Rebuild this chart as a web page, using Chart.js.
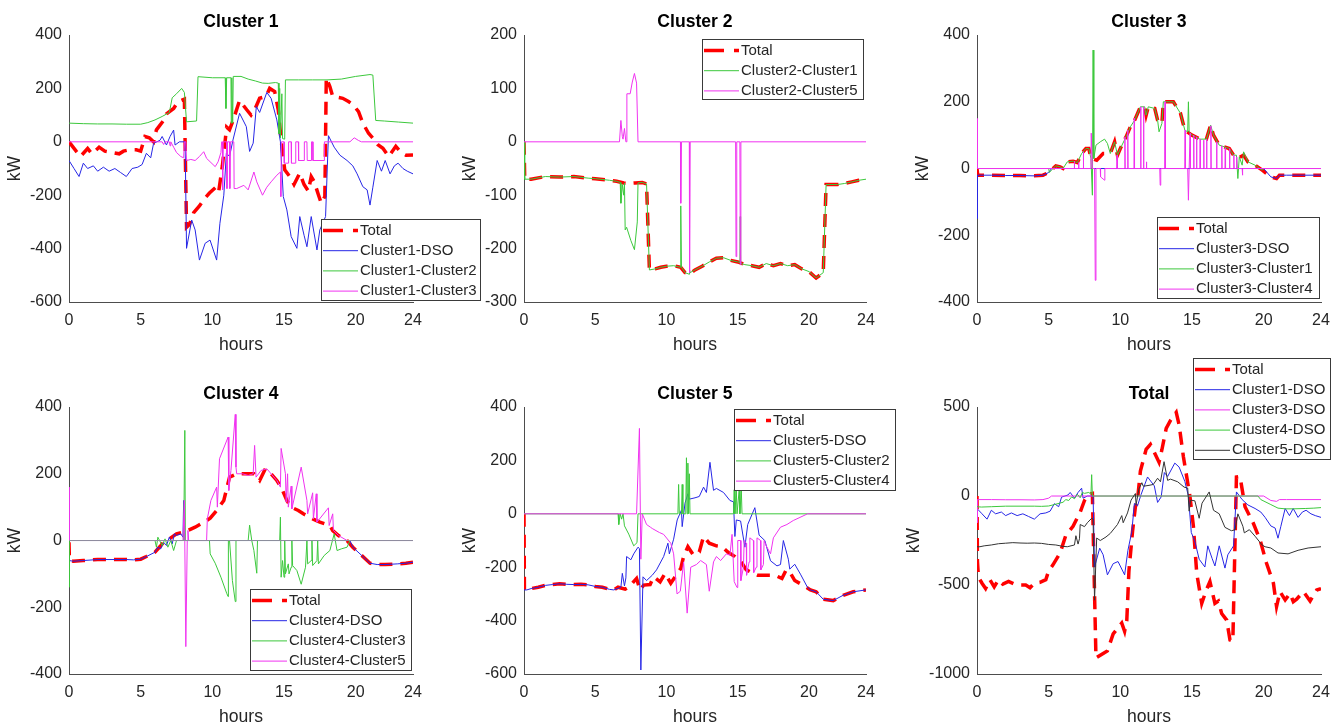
<!DOCTYPE html>
<html><head><meta charset="utf-8">
<script src="https://cdn.jsdelivr.net/npm/chart.js"></script>
<style>
html,body{margin:0;padding:0;background:#fff;width:1341px;height:723px;overflow:hidden;position:relative;}
canvas.pane{position:absolute;}
</style></head><body>
<canvas id="c1" class="pane"></canvas>
<canvas id="c2" class="pane"></canvas>
<canvas id="c3" class="pane"></canvas>
<canvas id="c4" class="pane"></canvas>
<canvas id="c5" class="pane"></canvas>
<canvas id="c6" class="pane"></canvas>
<script>
// ---------- tick labels ----------
const xTickValues = [0, 5, 10, 15, 20, 24];
const c1YTicks = [-600, -400, -200, 0, 200, 400];
const c2YTicks = [-300, -200, -100, 0, 100, 200];
const c3YTicks = [-400, -200, 0, 200, 400];
const c4YTicks = [-400, -200, 0, 200, 400];
const c5YTicks = [-600, -400, -200, 0, 200, 400];
const totYTicks = [-1000, -500, 0, 500];

// ---------- titles / legend labels ----------
const plotTitles = ['Cluster 1', 'Cluster 2', 'Cluster 3', 'Cluster 4', 'Cluster 5', 'Total'];
const c1Labels = ['Total', 'Cluster1-DSO', 'Cluster1-Cluster2', 'Cluster1-Cluster3'];
const c2Labels = ['Total', 'Cluster2-Cluster1', 'Cluster2-Cluster5'];
const c3Labels = ['Total', 'Cluster3-DSO', 'Cluster3-Cluster1', 'Cluster3-Cluster4'];
const c4Labels = ['Total', 'Cluster4-DSO', 'Cluster4-Cluster3', 'Cluster4-Cluster5'];
const c5Labels = ['Total', 'Cluster5-DSO', 'Cluster5-Cluster2', 'Cluster5-Cluster4'];
const totLabels = ['Total', 'Cluster1-DSO', 'Cluster3-DSO', 'Cluster4-DSO', 'Cluster5-DSO'];

// ---------- series values: [hour, kW] ----------
const c1Total = [[0,0],[0.5,-35],[0.8,-55],[1.3,-25],[1.6,-45],[2.1,-20],[2.5,-35],[3.0,-40],[3.5,-45],[3.8,-35],[4.2,-30],[4.7,-30],[5.0,-35],[5.3,20],[5.6,15],[5.9,0],[6.1,45],[6.6,80],[6.8,105],[7.3,125],[7.6,150],[8.05,160],[8.2,-320],[8.4,-310],[8.7,-265],[9.1,-240],[9.5,-210],[9.8,-192],[10.3,-167],[10.45,-185],[10.7,-90],[11.0,55],[11.2,45],[11.45,80],[11.9,155],[12.4,120],[12.7,100],[12.95,120],[13.3,163],[13.75,170],[14.0,200],[14.35,188],[14.6,120],[14.8,7],[15.05,-105],[15.4,-130],[15.7,-160],[16.1,-117],[16.4,-160],[16.7,-185],[16.9,-130],[17.1,-148],[17.4,-198],[17.6,-230],[17.85,-205],[17.95,240],[18.2,207],[18.4,170],[19.1,163],[19.5,151],[19.8,140],[20.2,113],[20.5,70],[20.9,32],[21.2,14],[21.55,-11],[21.9,-24],[22.3,-55],[22.5,-40],[22.8,-17],[23.2,-42],[23.5,-50],[24,-49]];
const c1DSO = [[0,-70],[0.35,-100],[0.7,-130],[1.0,-80],[1.3,-100],[1.7,-90],[2.0,-110],[2.4,-95],[2.8,-110],[3.2,-100],[3.6,-115],[4.0,-130],[4.4,-100],[4.8,-95],[5.1,-85],[5.4,-43],[5.7,-60],[5.9,-6],[6.35,6],[6.5,20],[6.8,-12],[7.05,20],[7.3,44],[7.4,-12],[7.7,0],[8.1,0],[8.2,-399],[8.56,-293],[8.8,-330],[9.1,-443],[9.5,-380],[9.84,-368],[10.3,-443],[10.53,-305],[10.8,-200],[10.98,-42],[11.2,-55],[11.44,7],[11.9,107],[12.37,57],[12.6,-36],[12.85,-5],[13.07,132],[13.3,110],[13.8,185],[14.1,163],[14.5,82],[14.75,0],[14.95,-205],[15.2,-255],[15.5,-355],[15.9,-399],[16.1,-280],[16.4,-350],[16.6,-393],[16.9,-280],[17.3,-405],[17.5,-330],[17.9,-280],[18.1,23],[18.5,-20],[18.9,-50],[19.4,-70],[19.8,-90],[20.1,-120],[20.5,-168],[20.8,-180],[21.0,-237],[21.2,-170],[21.5,-70],[21.8,-110],[22.06,-70],[22.4,-120],[22.7,-90],[22.96,-80],[23.3,-100],[23.6,-110],[24,-120]];
const c1C2 = [[0,70],[1,68],[2,67],[3,67],[4,66],[5,66],[5.5,72],[6.0,82],[6.5,95],[7.0,110],[7.2,165],[7.5,180],[7.86,200],[8.05,185],[8.2,75],[8.9,78],[9.0,244],[10.0,240],[10.9,240],[10.95,125],[11.0,240],[11.3,240],[11.32,70],[11.36,240],[11.42,70],[11.46,245],[12.0,245],[12.5,235],[13.0,228],[13.5,220],[13.9,219],[14.4,222],[14.6,220],[14.65,30],[14.7,200],[14.75,15],[14.85,180],[14.9,12],[15.05,10],[15.1,232],[16,232],[17,232],[18,232],[19,235],[20,245],[21,252],[21.2,250],[21.4,80],[22,78],[23,74],[24,70]];
const c1C3 = [[0,0],[6.5,0],[6.6,-10],[6.7,0],[7.0,0],[7.05,-15],[7.1,0],[7.3,-20],[7.5,-40],[7.8,-55],[8.0,-60],[8.05,0],[8.15,0],[8.2,-70],[8.5,-66],[8.8,-70],[9.1,-55],[9.4,-37],[9.6,-62],[10.2,-93],[10.4,-75],[10.6,-40],[10.65,0],[10.7,0],[10.72,-180],[10.76,0],[11.0,0],[11.02,-175],[11.06,0],[11.2,0],[11.22,-175],[11.26,0],[11.5,0],[11.52,-175],[11.7,-175],[12.2,-163],[12.5,-180],[12.9,-113],[13.1,-150],[13.5,-200],[13.8,-170],[14.1,-150],[14.5,-125],[14.75,-113],[14.78,-205],[14.82,0],[15.0,0],[15.02,-80],[15.3,-80],[15.32,0],[15.5,0],[15.52,-80],[15.8,-80],[15.82,0],[16.0,0],[16.02,-70],[16.4,-70],[16.42,0],[16.6,0],[16.62,-70],[16.9,-70],[16.92,0],[17.0,0],[17.02,-70],[17.8,-70],[17.82,0],[19.6,0],[19.9,15],[20.2,5],[20.4,0],[24,0]];

const c2Total = [[0,0],[0.05,-70],[0.5,-70],[1.5,-65],[2.5,-66],[3.5,-65],[4.5,-68],[5.0,-69],[6.0,-72],[6.5,-74],[7.0,-77],[7.3,-78],[7.8,-77],[8.3,-76],[8.6,-79],[8.8,-240],[9.2,-238],[9.6,-235],[10.0,-233],[10.5,-232],[11.0,-235],[11.3,-245],[11.6,-248],[12.0,-240],[12.5,-233],[13.0,-225],[13.5,-218],[14.0,-217],[14.5,-222],[15.0,-225],[15.5,-230],[16.0,-232],[16.5,-235],[17.0,-228],[17.5,-232],[18.0,-228],[18.5,-232],[19.0,-230],[19.5,-238],[20.0,-243],[20.5,-255],[21.0,-245],[21.2,-80],[22.0,-80],[22.5,-78],[23.0,-75],[23.5,-72],[24,-70]];
const c2C1 = [[0,0],[0.05,-70],[0.5,-70],[1.5,-65],[2.5,-66],[3.5,-65],[4.5,-68],[5.0,-69],[6.0,-72],[6.5,-74],[6.75,-76],[6.8,-115],[6.9,-80],[7.0,-100],[7.05,-77],[7.1,-165],[7.2,-160],[7.5,-185],[7.75,-202],[7.95,-150],[8.0,-77],[8.3,-76],[8.6,-79],[8.8,-240],[9.2,-238],[9.6,-235],[10.0,-233],[10.5,-232],[10.98,-235],[11.0,-120],[11.05,-235],[11.3,-245],[11.6,-248],[11.62,-240],[11.65,-245],[12.0,-240],[12.5,-233],[13.0,-225],[13.5,-218],[14.0,-217],[14.5,-222],[15.0,-225],[15.15,-226],[15.17,-140],[15.2,-228],[15.5,-230],[16.0,-232],[16.5,-235],[17.0,-228],[17.5,-232],[18.0,-228],[18.5,-232],[19.0,-230],[19.5,-238],[20.0,-243],[20.5,-255],[21.0,-245],[21.2,-80],[22.0,-80],[22.5,-78],[23.0,-75],[23.5,-72],[24,-70]];
const c2C5 = [[0,0],[6.7,0],[6.8,40],[6.9,10],[6.95,5],[7.05,25],[7.15,0],[7.2,0],[7.22,90],[7.45,90],[7.6,112],[7.75,128],[7.9,110],[8.0,0],[10.98,0],[11.0,-115],[11.05,0],[11.6,0],[11.62,-245],[11.66,0],[14.85,0],[14.88,-215],[14.93,0],[15.15,0],[15.18,-230],[15.22,0],[24,0]];

const c3Total = [[0,0],[0.05,-20],[1,-20],[2,-21],[3,-21],[4,-22],[4.6,-20],[5.0,-12],[5.3,0],[5.5,8],[5.8,5],[6.0,0],[6.3,20],[6.7,22],[7.0,18],[7.3,45],[7.6,60],[7.8,60],[7.95,30],[8.35,25],[8.8,45],[9.3,45],[9.6,80],[9.8,40],[10.0,60],[10.4,95],[10.7,125],[11.0,145],[11.4,185],[11.7,185],[11.8,160],[11.95,185],[12.4,180],[12.6,145],[12.9,135],[13.0,200],[13.5,200],[13.7,200],[14.2,165],[14.5,115],[15.0,100],[15.55,88],[16.0,88],[16.3,130],[16.5,100],[16.9,70],[17.6,60],[17.9,40],[18.2,30],[18.6,40],[18.9,20],[19.4,10],[19.9,-5],[20.5,-25],[20.9,-30],[21.1,-20],[21.6,-20],[24,-20]];
const c3DSO = [[0,-20],[0.01,-150],[0.05,-20],[1,-20],[2,-21],[3,-21],[4,-22],[4.6,-20],[5.0,-12],[5.2,0],[20.0,0],[20.5,-25],[20.9,-30],[21.1,-20],[21.6,-20],[24,-20]];
const c3C1 = [[0,0],[5.0,0],[5.05,-12],[5.3,0],[5.5,8],[5.8,5],[6.0,0],[6.3,20],[6.7,22],[7.0,18],[7.3,45],[7.6,60],[7.8,60],[7.95,30],[8.05,-80],[8.1,355],[8.15,30],[8.3,70],[8.6,80],[8.9,88],[9.1,75],[9.3,45],[9.6,80],[9.8,40],[10.0,60],[10.4,95],[10.7,125],[11.0,145],[11.4,185],[11.7,185],[11.8,160],[11.95,185],[12.4,180],[12.6,145],[12.7,110],[12.9,135],[13.0,200],[13.5,200],[13.7,200],[14.2,165],[14.5,115],[14.7,110],[14.75,200],[14.8,110],[15.0,100],[15.55,88],[16.0,88],[16.3,130],[16.5,100],[16.9,70],[17.6,60],[17.9,40],[18.1,40],[18.2,-30],[18.3,35],[18.5,10],[18.6,50],[18.9,20],[19.4,10],[19.9,-5],[20.0,0],[24,0]];
const c3C4 = [[0,0],[0.01,150],[0.05,0],[6.77,0],[6.79,22],[6.81,0],[7.07,0],[7.09,18],[7.11,0],[7.4,0],[7.42,50],[7.44,0],[7.95,0],[7.97,106],[8.05,0],[8.2,0],[8.25,-335],[8.3,0],[8.6,0],[8.62,-25],[8.9,-35],[8.92,0],[9.75,0],[9.77,40],[9.79,0],[10.3,0],[10.32,95],[10.34,0],[10.5,0],[10.52,115],[10.54,0],[10.95,0],[10.97,150],[10.99,0],[11.4,0],[11.42,185],[11.44,0],[11.6,0],[11.62,185],[11.64,0],[11.8,0],[11.82,20],[11.84,0],[12.75,0],[12.78,-50],[12.82,0],[13.1,0],[13.12,200],[13.14,0],[14.5,0],[14.52,115],[14.54,0],[14.7,0],[14.75,-95],[14.8,0],[14.85,0],[14.87,105],[14.89,0],[15.1,0],[15.12,100],[15.14,0],[15.3,0],[15.32,95],[15.34,0],[15.55,0],[15.57,88],[15.59,0],[15.8,0],[15.82,85],[15.84,0],[16.0,0],[16.02,88],[16.04,0],[16.3,0],[16.32,128],[16.34,0],[16.7,0],[16.72,80],[16.74,0],[17.06,0],[17.08,68],[17.1,0],[17.3,0],[17.32,62],[17.34,0],[17.6,0],[17.62,60],[17.64,0],[17.9,0],[17.92,40],[17.94,0],[18.1,0],[18.12,35],[18.14,0],[18.5,0],[18.52,-20],[18.54,0],[24,0]];

const c4Total = [[0,-5],[0.03,-60],[0.3,-62],[1,-60],[2,-57],[3,-57],[4,-57],[4.5,-58],[5.0,-56],[5.4,-48],[6.0,-35],[6.35,-18],[6.6,-5],[7.0,5],[7.5,20],[8.0,25],[8.3,30],[8.8,40],[9.5,57],[9.85,67],[10.3,90],[10.8,120],[11.2,190],[11.7,200],[12.1,200],[12.5,200],[12.9,200],[13.3,180],[13.7,215],[14.0,205],[14.5,180],[14.8,160],[15.2,120],[15.5,100],[16.0,90],[16.35,80],[17.0,65],[17.5,55],[18.2,45],[18.4,30],[18.8,15],[19.4,0],[19.8,-20],[20.5,-48],[21.0,-68],[21.5,-72],[22.05,-72],[22.9,-70],[23.5,-68],[24,-65]];
const c4DSO = [[0,-60],[0.3,-62],[1,-60],[2,-57],[3,-57],[4,-57],[4.5,-58],[5.0,-56],[5.4,-48],[6.0,-35],[6.2,-20],[6.4,-25],[6.6,-5],[6.8,-15],[7.0,10],[7.2,-10],[7.35,20],[7.5,15],[7.8,20],[7.95,10],[8.0,120],[8.05,0],[19.6,0],[19.8,-20],[20.5,-48],[21.0,-68],[21.5,-72],[22.05,-72],[22.9,-70],[23.5,-68],[24,-65]];
const c4C3 = [[0,0],[0.01,-140],[0.04,0],[6.0,0],[6.1,-20],[6.2,10],[6.5,-15],[6.7,5],[6.9,-20],[7.1,0],[7.3,-30],[7.5,0],[8.0,0],[8.08,330],[8.12,0],[9.8,0],[9.85,-40],[10.2,-68],[10.6,-110],[11.0,-158],[11.1,-168],[11.12,0],[11.2,0],[11.4,-120],[11.6,-183],[11.65,0],[12.5,0],[12.6,46],[12.75,0],[12.9,-30],[13.1,-98],[13.15,0],[14.7,0],[14.75,70],[14.8,-110],[14.9,-60],[15.0,-110],[15.05,0],[15.1,-100],[15.3,-70],[15.35,-100],[15.5,-80],[15.55,0],[15.6,-75],[15.9,-90],[16.2,-131],[16.5,-80],[16.6,0],[16.65,-70],[16.9,-60],[16.95,0],[17.0,-75],[17.3,-60],[17.35,0],[17.4,-70],[17.8,-45],[18.2,-30],[18.5,20],[18.7,-30],[19.0,-25],[19.4,-20],[19.6,0],[24,0]];
const c4C5 = [[0,0],[0.01,160],[0.04,0],[7.95,0],[8.05,120],[8.15,-318],[8.25,0],[8.3,30],[8.35,0],[9.6,0],[9.65,65],[9.9,120],[10.3,160],[10.35,100],[10.5,245],[11.1,310],[11.15,150],[11.3,210],[11.6,378],[11.65,220],[11.7,200],[12.1,200],[12.5,195],[12.85,200],[12.95,285],[13.05,190],[13.4,210],[13.8,215],[14.0,205],[14.5,180],[14.75,160],[14.8,276],[15.1,200],[15.15,115],[15.25,200],[15.3,100],[15.5,163],[15.55,95],[16.2,220],[16.6,120],[16.65,80],[17.0,143],[17.05,65],[17.25,140],[17.3,55],[18.1,98],[18.15,45],[18.4,80],[18.45,30],[18.8,15],[19.4,0],[24,0]];
const c4Zero = [[0,0],[24,0]];

const c5Total = [[0,0],[0.03,-285],[0.2,-285],[0.5,-280],[1,-275],[1.5,-268],[2,-265],[2.5,-262],[3,-264],[3.5,-265],[4,-264],[4.5,-266],[5.0,-272],[5.5,-275],[6.0,-283],[6.3,-285],[6.6,-275],[7.1,-282],[7.4,-273],[7.7,-254],[7.9,-242],[8.14,-285],[8.4,-267],[8.85,-265],[9.1,-236],[9.55,-255],[9.9,-223],[10.3,-260],[10.6,-236],[11.0,-205],[11.2,-160],[11.5,-123],[11.9,-155],[12.3,-143],[12.6,-85],[13.0,-110],[13.5,-120],[13.9,-123],[14.3,-143],[14.8,-160],[15.3,-185],[15.6,-210],[16.1,-223],[16.4,-230],[16.8,-230],[17.6,-230],[18.1,-242],[18.4,-210],[18.7,-222],[19.0,-250],[19.5,-265],[20.1,-285],[20.5,-292],[21.0,-320],[21.7,-325],[22.4,-305],[23.1,-292],[24,-285]];
const c5DSO = [[0,-285],[0.2,-285],[0.5,-280],[1,-275],[1.5,-268],[2,-265],[2.5,-262],[3,-264],[3.5,-265],[4,-264],[4.5,-266],[5.0,-272],[5.5,-275],[6.0,-283],[6.3,-285],[6.8,-275],[6.9,-223],[7.05,-270],[7.15,-240],[7.2,-160],[7.5,-172],[7.7,-150],[8.0,-125],[8.1,-130],[8.2,-585],[8.35,-236],[8.6,-250],[9.0,-230],[9.3,-210],[9.8,-160],[10.1,-110],[10.2,-150],[10.5,-95],[10.75,-23],[11.05,14],[11.1,-48],[11.3,40],[11.5,75],[11.6,55],[12.0,60],[12.3,65],[12.6,100],[12.8,80],[13.05,193],[13.3,88],[13.5,95],[14.0,80],[14.45,50],[14.7,45],[14.8,-85],[14.9,-23],[15.2,-27],[15.5,-125],[15.7,-40],[16.2,23],[16.5,-80],[16.9,-100],[17.3,-176],[17.75,-195],[18.0,-190],[18.2,-100],[18.55,-170],[18.65,-207],[19.0,-189],[19.4,-226],[19.9,-276],[20.1,-285],[20.5,-292],[21.0,-320],[21.7,-325],[22.4,-305],[23.1,-292],[24,-285]];
const c5C2 = [[0,0],[6.6,0],[6.65,-40],[6.75,0],[6.85,-20],[6.95,0],[7.05,-45],[7.35,-76],[7.7,-120],[7.93,-108],[8.0,0],[10.8,0],[10.85,110],[10.9,0],[11.05,0],[11.1,110],[11.15,0],[11.35,0],[11.4,210],[11.45,0],[11.5,190],[11.55,0],[11.6,150],[11.65,0],[14.7,0],[14.75,90],[14.8,0],[14.9,90],[14.95,0],[15.1,90],[15.15,0],[15.25,90],[15.3,0],[24,0]];
const c5C4 = [[0,0],[7.9,0],[8.1,320],[8.2,-170],[8.3,0],[8.6,-40],[8.87,-50],[9.0,-55],[9.5,-70],[9.8,-77],[10.3,-110],[10.5,-150],[10.74,-300],[10.97,-290],[11.2,-180],[11.45,-372],[11.7,-200],[12.1,-190],[12.4,-175],[12.8,-190],[13.0,-290],[13.3,-180],[13.5,-160],[13.8,-175],[14.2,-150],[14.45,-155],[14.6,-77],[14.75,-254],[14.95,-276],[15.0,-100],[15.2,-100],[15.22,-250],[15.4,-200],[15.45,-100],[15.6,-110],[15.62,-230],[15.8,-180],[15.85,-90],[16.1,-100],[16.12,-220],[16.3,-200],[16.35,-90],[16.6,-100],[16.62,-210],[16.8,-190],[16.85,-100],[17.0,-120],[17.3,-150],[17.5,-90],[18.0,-50],[18.45,-40],[18.9,-25],[19.3,-15],[19.9,0],[24,0]];

const totTotal = [[0,0],[0.03,-365],[0.1,-455],[0.35,-490],[0.6,-520],[0.9,-470],[1.2,-510],[1.5,-470],[1.8,-495],[2.2,-480],[2.6,-495],[3.0,-500],[3.4,-500],[3.7,-515],[4.0,-490],[4.4,-485],[4.8,-470],[5.0,-420],[5.3,-387],[5.8,-320],[6.2,-220],[6.7,-170],[7.2,-90],[7.5,-25],[7.8,10],[8.05,15],[8.16,-400],[8.3,-910],[8.8,-885],[9.1,-870],[9.5,-775],[10.1,-714],[10.3,-760],[10.45,-700],[10.6,-420],[10.85,-200],[11.05,-60],[11.2,-20],[11.4,140],[11.8,262],[12.1,290],[12.4,240],[12.7,190],[12.9,260],[13.2,380],[13.5,425],[13.9,470],[14.1,400],[14.4,221],[14.86,-4],[15.1,-172],[15.33,-434],[15.68,-603],[16.0,-528],[16.25,-481],[16.6,-603],[16.84,-590],[17.07,-660],[17.42,-697],[17.65,-809],[17.85,-815],[18.1,107],[18.35,110],[18.7,-60],[19.28,-153],[19.75,-247],[20.2,-378],[20.68,-490],[20.9,-621],[21.14,-537],[21.5,-584],[21.84,-547],[22.07,-594],[22.3,-580],[22.77,-537],[23.24,-590],[23.7,-528],[24,-520]];

// ---------- styles ----------
const FONT = "'Liberation Sans', Arial, Helvetica, sans-serif";
const TXT = '#262626';
const RED = '#ff0000', BLUE = '#2626e6', GREEN = '#3cc83c', MAG = '#f032f0', BLACK = '#333333', GRAY = '#8e8e9e';
Chart.defaults.font.family = FONT;
Chart.defaults.color = TXT;

const boxLegend = {
  id: 'boxLegend',
  afterDraw(chart, args, opts) {
    if (!opts || opts.dx === undefined) return;
    const {ctx, chartArea} = chart;
    const items = chart.data.datasets.filter(d => !d.hideInLegend);
    const bx = Math.round(chartArea.left + opts.dx), by = Math.round(chartArea.top + opts.dy);
    const h = Math.round(11.5 + (items.length - 1) * 20.2 + 9.5);
    ctx.save();
    ctx.fillStyle = '#fff';
    ctx.fillRect(bx, by, opts.w, h);
    ctx.strokeStyle = '#3a3a3a'; ctx.lineWidth = 1; ctx.setLineDash([]);
    ctx.strokeRect(bx + 0.5, by + 0.5, opts.w - 1, h - 1);
    items.forEach((d, i) => {
      const y = by + 11.5 + i * 20.2;
      ctx.beginPath();
      ctx.setLineDash(d.borderDash && d.borderDash.length ? [20, 10] : []);
      ctx.strokeStyle = d.borderColor; ctx.lineWidth = d.borderWidth;
      ctx.moveTo(bx + 2, y); ctx.lineTo(bx + 37, y); ctx.stroke();
      ctx.setLineDash([]);
      ctx.fillStyle = TXT; ctx.font = '15px ' + FONT;
      ctx.textBaseline = 'middle'; ctx.textAlign = 'left';
      ctx.fillText(d.label, bx + 39, y);
    });
    ctx.restore();
  }
};
Chart.register(boxLegend);

function makeChart(id, spec) {
  const yw = spec.yw || 69, topSpace = spec.topSpace || 35;
  const pw = spec.R - spec.L, ph = spec.B - spec.T;
  const cv = document.getElementById(id);
  const W = yw + pw + yw, H = topSpace + ph + 55;
  cv.width = W; cv.height = H;
  cv.style.width = W + 'px'; cv.style.height = H + 'px';
  cv.style.left = (spec.L - yw) + 'px'; cv.style.top = (spec.T - topSpace) + 'px';
  const n = spec.series.length;
  const datasets = spec.series.map((s, i) => ({
    label: s.label,
    data: s.data.map(p => ({x: p[0], y: p[1]})),
    borderColor: s.color, backgroundColor: s.color,
    borderWidth: s.width || 1, borderDash: s.dash || [],
    pointRadius: 0, pointHoverRadius: 0, fill: false, tension: 0,
    order: s.order !== undefined ? s.order : (n - i),
    hideInLegend: !!s.noLegend, xAxisID: 'x', yAxisID: 'y'
  }));
  const yT = spec.yTicks;
  new Chart(cv, {
    type: 'line',
    data: {datasets},
    options: {
      responsive: false, animation: false, devicePixelRatio: 1,
      events: [],
      layout: {padding: 0},
      plugins: {
        legend: {display: false}, tooltip: {enabled: false},
        title: {display: true, text: spec.title, color: '#000',
          font: {size: 17.6, weight: 'bold', family: FONT},
          padding: {top: topSpace - 13.3 - 10.56, bottom: 2.78}},
        boxLegend: spec.legend
      },
      scales: {
        x: {type: 'linear', position: 'bottom', min: 0, max: 24,
          afterBuildTicks: s => { s.ticks = xTickValues.map(v => ({value: v})); },
          afterFit: s => { s.height = 55; },
          ticks: {autoSkip: false, maxRotation: 0, padding: 9, font: {size: 16}, color: TXT, callback: v => String(v)},
          grid: {display: false, drawTicks: false},
          border: {display: true, color: '#4d4d4d', width: 1},
          title: {display: true, text: 'hours', font: {size: 17.6}, color: TXT, padding: {top: 0, bottom: 1.44}}
        },
        y: {type: 'linear', position: 'left', min: yT[0], max: yT[yT.length - 1],
          afterBuildTicks: s => { s.ticks = yT.map(v => ({value: v})); },
          afterFit: s => { s.width = yw; },
          ticks: {padding: 7, font: {size: 16}, color: TXT, callback: v => String(v)},
          grid: {display: false, drawTicks: false},
          border: {display: true, color: '#4d4d4d', width: 1},
          title: {display: true, text: 'kW', font: {size: 17.6}, color: TXT, padding: {top: 4.4, bottom: 0}}
        },
        yR: {type: 'linear', position: 'right', display: true,
          ticks: {display: false}, grid: {display: false, drawTicks: false}, border: {display: false},
          afterFit: s => { s.width = yw; }
        }
      }
    }
  });
}

const TOT = (data, label) => ({label, data, color: RED, width: 3.5, dash: [13, 8]});

makeChart('c1', {title: plotTitles[0], L: 69, R: 413, T: 35, B: 302, yTicks: c1YTicks,
  legend: {dx: 252, dy: 184, w: 160},
  series: [TOT(c1Total, c1Labels[0]),
    {label: c1Labels[1], data: c1DSO, color: BLUE},
    {label: c1Labels[2], data: c1C2, color: GREEN},
    {label: c1Labels[3], data: c1C3, color: MAG}]});

makeChart('c2', {title: plotTitles[1], L: 524, R: 866, T: 35, B: 302, yTicks: c2YTicks,
  legend: {dx: 178, dy: 4, w: 162},
  series: [TOT(c2Total, c2Labels[0]),
    {label: c2Labels[1], data: c2C1, color: GREEN},
    {label: c2Labels[2], data: c2C5, color: MAG}]});

makeChart('c3', {title: plotTitles[2], L: 977, R: 1321, T: 35, B: 302, yTicks: c3YTicks,
  legend: {dx: 180, dy: 182, w: 163},
  series: [TOT(c3Total, c3Labels[0]),
    {label: c3Labels[1], data: c3DSO, color: BLUE},
    {label: c3Labels[2], data: c3C1, color: GREEN},
    {label: c3Labels[3], data: c3C4, color: MAG}]});

makeChart('c4', {title: plotTitles[3], L: 69, R: 413, T: 407, B: 674, yTicks: c4YTicks,
  legend: {dx: 181, dy: 182, w: 162},
  series: [TOT(c4Total, c4Labels[0]),
    {label: c4Labels[1], data: c4DSO, color: BLUE},
    {label: c4Labels[2], data: c4C3, color: GREEN},
    {label: c4Labels[3], data: c4C5, color: MAG},
    {label: 'zero', data: c4Zero, color: GRAY, noLegend: true, order: 0}]});

makeChart('c5', {title: plotTitles[4], L: 524, R: 866, T: 407, B: 674, yTicks: c5YTicks,
  legend: {dx: 210, dy: 2, w: 162},
  series: [TOT(c5Total, c5Labels[0]),
    {label: c5Labels[1], data: c5DSO, color: BLUE},
    {label: c5Labels[2], data: c5C2, color: GREEN},
    {label: c5Labels[3], data: c5C4, color: MAG}]});

makeChart('c6', {title: plotTitles[5], L: 977, R: 1321, T: 407, B: 674, yTicks: totYTicks, yw: 78, topSpace: 50,
  legend: {dx: 216, dy: -49, w: 138},
  series: [TOT(totTotal, totLabels[0]),
    {label: totLabels[1], data: c1DSO, color: BLUE},
    {label: totLabels[2], data: c3DSO, color: MAG},
    {label: totLabels[3], data: c4DSO, color: GREEN},
    {label: totLabels[4], data: c5DSO, color: BLACK}]});
</script>
</body></html>
